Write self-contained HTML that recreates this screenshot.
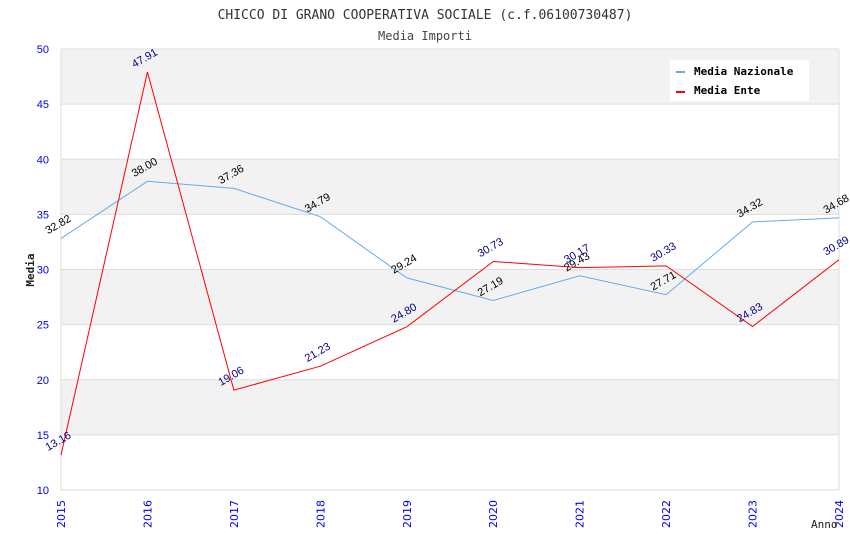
<!DOCTYPE html>
<html><head><meta charset="utf-8"><style>
body{margin:0;background:#fff}
svg{font-family:"DejaVu Sans Mono","Liberation Mono",monospace}
</style></head><body>
<svg width="850" height="550" xmlns="http://www.w3.org/2000/svg">
<text x="425" y="19" text-anchor="middle" font-size="13" fill="#333">CHICCO DI GRANO COOPERATIVA SOCIALE (c.f.06100730487)</text>
<text x="425" y="40" text-anchor="middle" font-size="12" fill="#444">Media Importi</text>
<g id="bands"></g><g id="grid"></g><g id="yt"></g><g id="xt"></g><g id="lines"></g><g id="labels"></g>
<text x="34" y="270" transform="rotate(-90 34 270)" text-anchor="middle" font-size="11" font-weight="bold" fill="#222">Media</text>
<text x="811" y="528" font-size="11" fill="#222">Anno</text>
<g>
<rect x="670" y="60" width="139" height="41" fill="#fff"/>
<rect x="676" y="71" width="9" height="2" fill="#66aaee"/>
<text x="694" y="75" font-size="11" font-weight="bold" fill="#000">Media Nazionale</text>
<rect x="676" y="91" width="9" height="2" fill="#ff0000"/>
<text x="694" y="94" font-size="11" font-weight="bold" fill="#000">Media Ente</text>
</g>
</svg>
<script>
const years=["2015","2016","2017","2018","2019","2020","2021","2022","2023","2024"];
const nazionale=[32.82,38.00,37.36,34.79,29.24,27.19,29.43,27.71,34.32,34.68];
const ente=[13.16,47.91,19.06,21.23,24.80,30.73,30.17,30.33,24.83,30.89];
const yTicks=[10,15,20,25,30,35,40,45,50];
const NS="http://www.w3.org/2000/svg";
const L=61,R=839,T=49,B=490;
const x=i=>L+i*(R-L)/(years.length-1);
const y=v=>B-(v-10)*(B-T)/40;
function mk(tag,attrs,parent){const e=document.createElementNS(NS,tag);for(const k in attrs)e.setAttribute(k,attrs[k]);document.getElementById(parent).appendChild(e);return e;}
for(let v=15;v<50;v+=10){const r=mk('rect',{x:L,y:y(v+5),width:R-L,height:y(v)-y(v+5),fill:'#f2f2f2'},'bands');

}
yTicks.forEach(v=>{const l=mk('line',{x1:L,x2:R,y1:y(v),y2:y(v),stroke:'#ddd'},'grid');


const t=mk('text',{x:L-12,y:y(v)+4,'text-anchor':'end','font-size':11,fill:'#0000ee','font-family':'Liberation Sans, sans-serif'},'yt');t.textContent=v;

});
const la=mk('line',{x1:L,x2:L,y1:T,y2:B,stroke:'#ddd'},'grid');


const rb=mk('line',{x1:R,x2:R,y1:T,y2:B,stroke:'#ddd'},'grid');


years.forEach((yr,i)=>{const t=mk('text',{x:x(i)+4,y:528,transform:`rotate(-90 ${x(i)+4} 528)`,'font-size':11,fill:'#0000ee','font-family':'DejaVu Sans, sans-serif'},'xt');t.textContent=yr;

});
function series(vals,color,lc,name){
const p=mk('polyline',{points:vals.map((v,i)=>x(i)+','+y(v)).join(' '),fill:'none',stroke:color,'stroke-width':1},'lines');


vals.forEach((v,i)=>{const tx=x(i)-13,ty=y(v)-4;const t=mk('text',{x:tx,y:ty,transform:`rotate(-30 ${tx} ${ty})`,'font-size':11,fill:lc,'font-family':'Liberation Sans, sans-serif'},'labels');t.textContent=v.toFixed(2);

});}
series(nazionale,'#66aaee','#000','nazionale');
series(ente,'#ff0000','#000088','ente');
</script>
</body></html>
